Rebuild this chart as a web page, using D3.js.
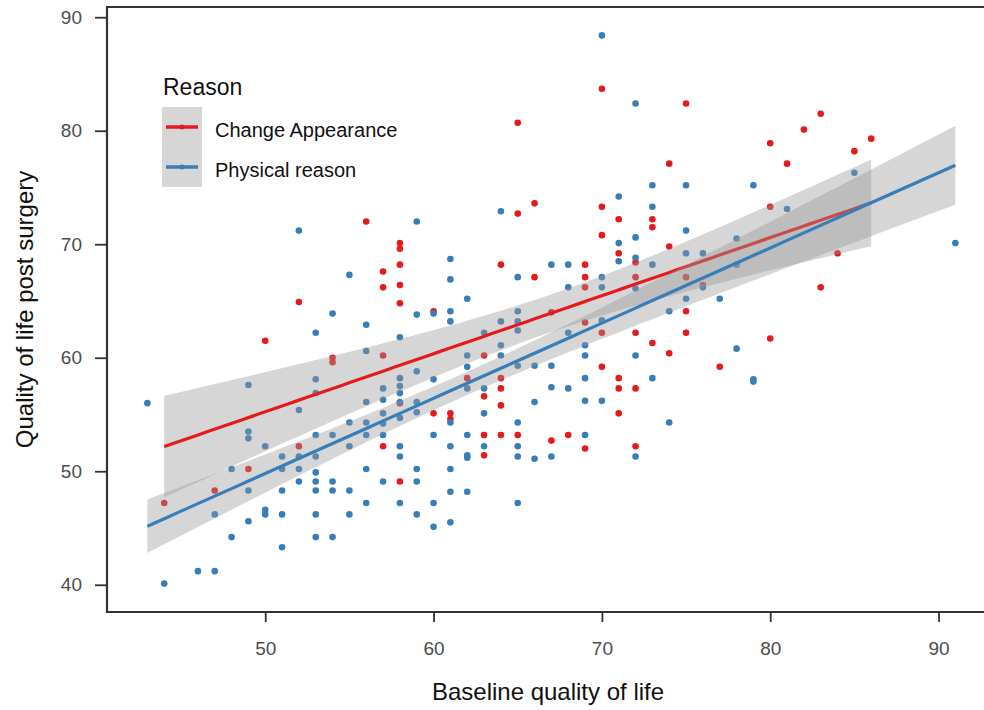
<!DOCTYPE html>
<html>
<head>
<meta charset="utf-8">
<script src="https://cdn.jsdelivr.net/npm/d3@7"></script>
<style>
  body { margin: 0; background: #fff; }
  svg { font-family: "Liberation Sans", Arial, sans-serif; }
</style>
</head>
<body>
<div id="chart"></div>
<script>
// groups / labels
const groups = ["Change Appearance", "Physical reason"];
const colors = ["#e41a1c", "#377eb8"];
const xTicks = [50, 60, 70, 80, 90];
const yTicks = [40, 50, 60, 70, 80, 90];

// Change Appearance : [baseline, post surgery]
const redPts = [
  [44,47.2],[47,48.3],[49,50.2],[50,61.5],[52,64.9],[52,52.2],[54,59.6],[54,60.0],
  [56,72.0],[57,67.6],[57,66.2],[57,60.2],[57,52.2],
  [58,70.1],[58,69.6],[58,68.2],[58,66.4],[58,64.8],[58,56.0],[58,49.1],
  [60,64.1],[60,55.1],[61,55.1],[61,54.6],[62,58.2],
  [63,60.2],[63,56.6],[63,53.2],[63,51.4],
  [64,68.2],[64,58.2],[64,57.3],[64,55.8],[64,53.2],
  [65,80.7],[65,72.7],[65,53.2],[66,73.6],[66,67.1],[67,64.0],[67,52.7],[68,53.2],
  [69,68.2],[69,67.1],[69,66.2],[69,63.1],[69,52.0],
  [70,83.7],[70,73.3],[70,70.8],[70,62.2],[70,59.2],
  [71,72.2],[71,69.2],[71,58.2],[71,57.3],[71,55.1],
  [72,68.4],[72,67.1],[72,62.2],[72,57.3],[72,52.2],
  [73,72.2],[73,71.5],[73,61.3],[74,77.1],[74,69.8],[74,60.4],
  [75,82.4],[75,67.1],[75,64.1],[75,62.2],[76,66.4],[77,59.2],
  [80,78.9],[80,73.3],[80,61.7],[81,77.1],[82,80.1],[83,81.5],[83,66.2],
  [84,69.2],[85,78.2],[86,79.3]
];

// Physical reason : [baseline, post surgery]
const bluePts = [
  [43,56.0],[44,40.1],[46,41.2],[47,41.2],[47,46.2],[48,44.2],[48,50.2],
  [49,57.6],[49,53.5],[49,52.9],[49,48.3],[49,45.6],
  [50,52.2],[50,46.6],[50,46.2],
  [51,51.3],[51,50.2],[51,48.3],[51,46.2],[51,43.3],
  [52,71.2],[52,55.4],[52,51.3],[52,50.2],[52,49.1],
  [53,62.2],[53,58.1],[53,56.9],[53,53.2],[53,51.3],[53,49.9],[53,49.1],[53,48.3],[53,46.2],[53,44.2],
  [54,63.9],[54,53.2],[54,49.1],[54,48.3],[54,44.2],
  [55,67.3],[55,54.3],[55,52.2],[55,48.3],[55,46.2],
  [56,62.9],[56,60.6],[56,56.1],[56,54.3],[56,53.2],[56,50.2],[56,47.2],
  [57,57.3],[57,56.3],[57,55.1],[57,54.2],[57,53.2],[57,49.1],
  [58,61.8],[58,58.2],[58,57.5],[58,56.9],[58,56.1],[58,54.7],[58,52.2],[58,51.3],[58,47.2],
  [59,72.0],[59,63.8],[59,58.8],[59,56.1],[59,55.2],[59,50.2],[59,49.1],[59,46.2],
  [60,63.9],[60,58.1],[60,53.2],[60,47.2],[60,45.1],
  [61,68.7],[61,66.9],[61,64.1],[61,63.2],[61,54.3],[61,52.2],[61,50.2],[61,48.2],[61,45.5],
  [62,65.2],[62,60.2],[62,59.2],[62,57.3],[62,53.2],[62,51.4],[62,51.2],[62,48.2],
  [63,62.2],[63,57.3],[63,55.1],[63,52.2],
  [64,72.9],[64,63.2],[64,61.1],[64,60.2],
  [65,67.1],[65,64.1],[65,63.2],[65,62.4],[65,59.3],[65,54.3],[65,52.2],[65,51.3],[65,47.2],
  [66,59.3],[66,56.1],[66,51.1],
  [67,68.2],[67,59.3],[67,57.4],[67,51.3],
  [68,68.2],[68,66.2],[68,62.2],[68,57.3],
  [69,61.1],[69,60.2],[69,58.2],[69,56.2],[69,53.2],
  [70,88.4],[70,67.1],[70,66.2],[70,63.3],[70,56.2],
  [71,74.2],[71,70.1],[71,68.5],
  [72,82.4],[72,70.6],[72,68.8],[72,66.1],[72,60.2],[72,51.3],
  [73,75.2],[73,73.3],[73,68.2],[73,58.2],
  [74,64.1],[74,54.3],
  [75,75.2],[75,71.2],[75,69.2],[75,65.2],
  [76,69.2],[76,66.2],[77,65.2],
  [78,70.5],[78,68.2],[78,60.8],
  [79,75.2],[79,58.1],[79,57.9],
  [81,73.1],[85,76.3],[91,70.1]
];

const series = [redPts, bluePts];

const W = 984, H = 710;
const mLeft = 107, mRight = 984, mTop = 7, mBottom = 612;

const svg = d3.select("#chart").append("svg")
  .attr("width", W).attr("height", H);

const x = d3.scaleLinear().domain([40.6, 92.7]).range([mLeft, mRight]);
const y = d3.scaleLinear().domain([37.6, 90.9]).range([mBottom, mTop]);

// simple lm fit with 95% band, like geom_smooth(method = "lm")
function fit(pts) {
  const n = pts.length;
  const mx = d3.mean(pts, d => d[0]), my = d3.mean(pts, d => d[1]);
  const sxx = d3.sum(pts, d => (d[0] - mx) ** 2);
  const sxy = d3.sum(pts, d => (d[0] - mx) * (d[1] - my));
  const b = sxy / sxx, a = my - b * mx;
  const s = Math.sqrt(d3.sum(pts, d => (d[1] - a - b * d[0]) ** 2) / (n - 2));
  const t = 1.96 + 2.4 / (n - 2);
  const [x0, x1] = d3.extent(pts, d => d[0]);
  return d3.range(0, 81).map(i => {
    const xv = x0 + (x1 - x0) * i / 80;
    const yv = a + b * xv;
    const se = s * Math.sqrt(1 / n + (xv - mx) ** 2 / sxx);
    return { x: xv, y: yv, lo: yv - t * se, hi: yv + t * se };
  });
}

// points
series.forEach((pts, i) => {
  svg.append("g").selectAll("circle")
    .data(pts)
    .enter().append("circle")
    .attr("cx", d => x(d[0]))
    .attr("cy", d => y(d[1]))
    .attr("r", 3.3)
    .attr("fill", colors[i]);
});

// ribbons + lines, one group after the other
const area = d3.area().x(d => x(d.x)).y0(d => y(d.lo)).y1(d => y(d.hi));
const line = d3.line().x(d => x(d.x)).y(d => y(d.y));
series.forEach((pts, i) => {
  const f = fit(pts);
  svg.append("path").attr("d", area(f))
    .attr("fill", "#999999").attr("fill-opacity", 0.4);
  svg.append("path").attr("d", line(f))
    .attr("fill", "none").attr("stroke", colors[i]).attr("stroke-width", 3.2);
});

// axes
const axisCol = "#333333";
const gx = svg.append("g")
  .attr("transform", `translate(0,${mBottom})`)
  .call(d3.axisBottom(x).tickValues(xTicks).tickSize(10).tickPadding(20));
const gy = svg.append("g")
  .attr("transform", `translate(${mLeft},0)`)
  .call(d3.axisLeft(y).tickValues(yTicks).tickSize(12).tickPadding(13));
[gx, gy].forEach(g => {
  g.select(".domain").remove();
  g.selectAll(".tick line").attr("stroke", axisCol).attr("stroke-width", 1.8);
  g.selectAll(".tick text").attr("fill", "#4d4d4d")
    .style("font-size", "19px").style("font-family", "Liberation Sans, Arial, sans-serif");
});

// box lines (left, top, bottom)
svg.append("path")
  .attr("d", `M${mRight},${mTop}H${mLeft}V${mBottom}H${mRight}`)
  .attr("fill", "none").attr("stroke", axisCol).attr("stroke-width", 2.2);

// axis titles
svg.append("text")
  .attr("x", 548).attr("y", 700)
  .attr("text-anchor", "middle")
  .style("font-size", "24px").attr("fill", "#111")
  .text("Baseline quality of life");
svg.append("text")
  .attr("transform", `translate(33,${(mTop + mBottom) / 2}) rotate(-90)`)
  .attr("text-anchor", "middle")
  .style("font-size", "24px").attr("fill", "#111")
  .text("Quality of life post surgery");

// legend
const lg = svg.append("g").attr("transform", "translate(162,107)");
lg.append("text").attr("x", 1).attr("y", -12)
  .style("font-size", "23px").attr("fill", "#111").text("Reason");
lg.append("rect").attr("width", 40).attr("height", 80)
  .attr("fill", "#999999").attr("fill-opacity", 0.4);
groups.forEach((g, i) => {
  const cy = 20 + i * 40;
  lg.append("line").attr("x1", 4).attr("x2", 36).attr("y1", cy).attr("y2", cy)
    .attr("stroke", colors[i]).attr("stroke-width", 3.5);
  lg.append("circle").attr("cx", 20).attr("cy", cy).attr("r", 2.5).attr("fill", colors[i]);
  lg.append("text").attr("x", 53).attr("y", cy + 10)
    .style("font-size", "20px").attr("fill", "#111").text(g);
});
</script>
</body>
</html>
